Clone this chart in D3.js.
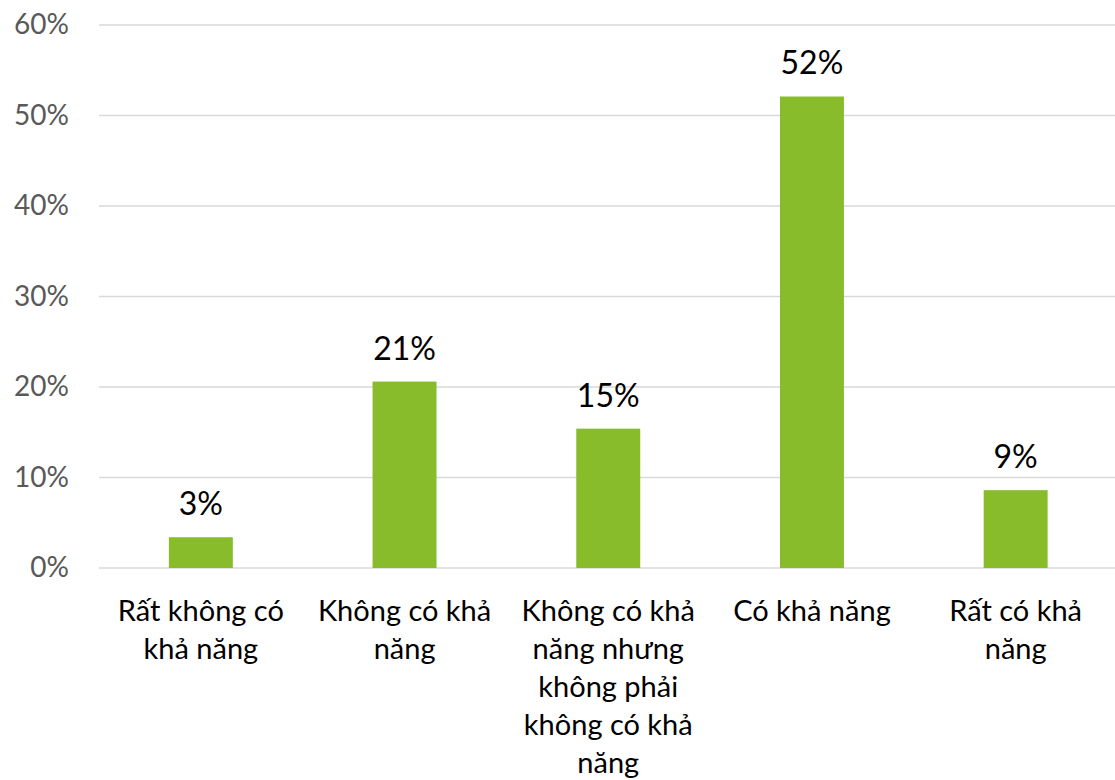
<!DOCTYPE html>
<html>
<head>
<meta charset="utf-8">
<script src="https://cdn.jsdelivr.net/npm/d3@7"></script>
<style>
  html, body { margin: 0; padding: 0; background: #ffffff; }
  svg { display: block; }
</style>
</head>
<body>
<svg id="chart" width="1115" height="780"></svg>
<script>
// Survey responses: likelihood scale
const categories = [
  ["Rất không có", "khả năng"],
  ["Không có khả", "năng"],
  ["Không có khả", "năng nhưng", "không phải", "không có khả", "năng"],
  ["Có khả năng"],
  ["Rất có khả", "năng"]
];
const shares = [0.034, 0.206, 0.154, 0.521, 0.086];
const yTicks = [0, 0.1, 0.2, 0.3, 0.4, 0.5, 0.6];

const FONT = "Lato, 'Noto Sans', sans-serif";
const margin = { top: 25, right: 0, bottom: 212, left: 99 };
const width = 1115, height = 780;

const svg = d3.select("#chart");
const g = svg.append("g").attr("transform", `translate(${margin.left},${margin.top})`);
const innerW = width - margin.left - margin.right;
const innerH = height - margin.top - margin.bottom;

const x = d3.scaleBand()
  .domain(d3.range(categories.length))
  .range([0, 1018.5])
  .paddingInner(0.686)
  .paddingOuter(0.343);

const y = d3.scaleLinear().domain([0, 0.6]).range([innerH, 0]);

// horizontal gridlines
g.append("g")
  .selectAll("line")
  .data(yTicks)
  .join("line")
  .attr("x1", 0)
  .attr("x2", innerW)
  .attr("y1", d => y(d))
  .attr("y2", d => y(d))
  .attr("stroke", "#d9d9d9")
  .attr("stroke-width", 1.5);

// y-axis tick labels
const yAxis = d3.axisLeft(y).tickValues(yTicks).tickFormat(d3.format(".0%")).tickSize(0).tickPadding(30);
const ya = g.append("g").call(yAxis);
ya.select(".domain").remove();
ya.selectAll("text")
  .attr("font-family", FONT)
  .attr("font-size", 28)
  .attr("fill", "#595959");

// bars
g.append("g")
  .selectAll("rect")
  .data(shares)
  .join("rect")
  .attr("x", (d, i) => x(i))
  .attr("width", x.bandwidth())
  .attr("y", d => y(d))
  .attr("height", d => y(0) - y(d))
  .attr("fill", "#88bc2b");

// value labels
g.append("g")
  .selectAll("text")
  .data(shares)
  .join("text")
  .attr("x", (d, i) => x(i) + x.bandwidth() / 2)
  .attr("y", d => y(d) - 22)
  .attr("text-anchor", "middle")
  .attr("font-family", FONT)
  .attr("font-size", 32)
  .attr("fill", "#000000")
  .text(d => d3.format(".0%")(d));

// category labels, wrapped over several lines
const cat = g.append("g")
  .selectAll("text")
  .data(categories)
  .join("text")
  .attr("text-anchor", "middle")
  .attr("font-family", FONT)
  .attr("font-size", 29)
  .attr("fill", "#000000")
  .attr("transform", (d, i) => `translate(${x(i) + x.bandwidth() / 2},${innerH + 53})`);
cat.selectAll("tspan")
  .data(d => d)
  .join("tspan")
  .attr("x", 0)
  .attr("y", (d, j) => j * 38)
  .text(d => d);
</script>
</body>
</html>
